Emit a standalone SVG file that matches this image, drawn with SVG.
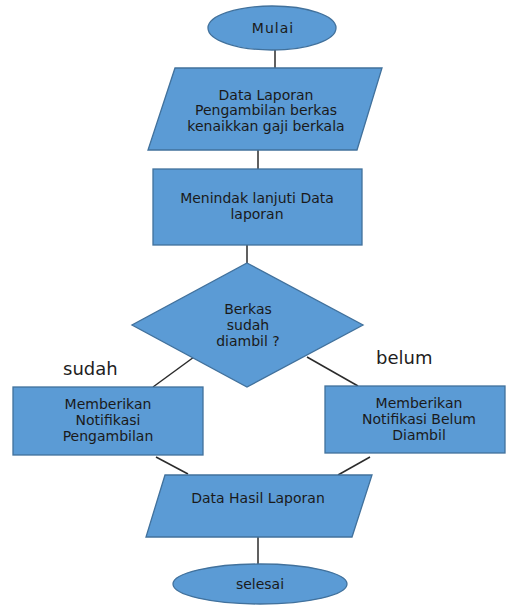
<svg xmlns="http://www.w3.org/2000/svg" width="506" height="605" viewBox="0 0 506 605">
<style>
.shape{fill:#5B9BD5;stroke:#41719C;stroke-width:1.3}
.t{font-family:"DejaVu Sans","Liberation Sans",sans-serif;font-size:14px;fill:#1a1a1a;text-anchor:middle}
.lbl{font-family:"DejaVu Sans","Liberation Sans",sans-serif;font-size:18px;fill:#1e1e1e}
.conn{stroke:#2b2b2b;stroke-width:1.5;fill:none}
</style>
<rect width="506" height="605" fill="#ffffff"/>
<g id="connectors">
<line class="conn" x1="275" y1="50" x2="275" y2="68"/>
<line class="conn" x1="258" y1="150" x2="258" y2="169"/>
<line class="conn" x1="247" y1="245" x2="247" y2="263"/>
<line class="conn" x1="194" y1="357" x2="153" y2="387"/>
<line class="conn" x1="307" y1="357" x2="358" y2="386"/>
<line class="conn" x1="156" y1="457" x2="188" y2="474"/>
<line class="conn" x1="370" y1="457" x2="338" y2="475"/>
<line class="conn" x1="258" y1="537" x2="258" y2="565"/>
</g>
<g id="mulai">
<ellipse class="shape" cx="272" cy="28" rx="64" ry="22"/>
<text class="t" x="273" y="33" letter-spacing="1">Mulai</text>
</g>
<g id="data-laporan">
<polygon class="shape" points="175,68 382,68 357,150 148,150"/>
<text class="t" x="266" y="100">Data Laporan</text>
<text class="t" x="266" y="115">Pengambilan berkas</text>
<text class="t" x="266" y="131">kenaikkan gaji berkala</text>
</g>
<g id="menindak">
<rect class="shape" x="153" y="169" width="209" height="76"/>
<text class="t" x="257" y="203">Menindak lanjuti Data</text>
<text class="t" x="257" y="219">laporan</text>
</g>
<g id="keputusan">
<polygon class="shape" points="247,263 363,325 247,387 132,325"/>
<text class="t" x="248" y="314">Berkas</text>
<text class="t" x="248" y="330">sudah</text>
<text class="t" x="248" y="346">diambil ?</text>
</g>
<text class="lbl" x="63" y="375">sudah</text>
<text class="lbl" x="376" y="364">belum</text>
<g id="notif-sudah">
<rect class="shape" x="13" y="387" width="190" height="68"/>
<text class="t" x="108" y="409">Memberikan</text>
<text class="t" x="108" y="425">Notifikasi</text>
<text class="t" x="108" y="441">Pengambilan</text>
</g>
<g id="notif-belum">
<rect class="shape" x="325" y="386" width="180" height="67"/>
<text class="t" x="419" y="408">Memberikan</text>
<text class="t" x="419" y="424">Notifikasi Belum</text>
<text class="t" x="419" y="440">Diambil</text>
</g>
<g id="data-hasil">
<polygon class="shape" points="165,475 372,475 352,537 146,537"/>
<text class="t" x="258" y="503">Data Hasil Laporan</text>
</g>
<g id="selesai">
<ellipse class="shape" cx="260" cy="584" rx="87" ry="20"/>
<text class="t" x="260" y="589">selesai</text>
</g>
</svg>
